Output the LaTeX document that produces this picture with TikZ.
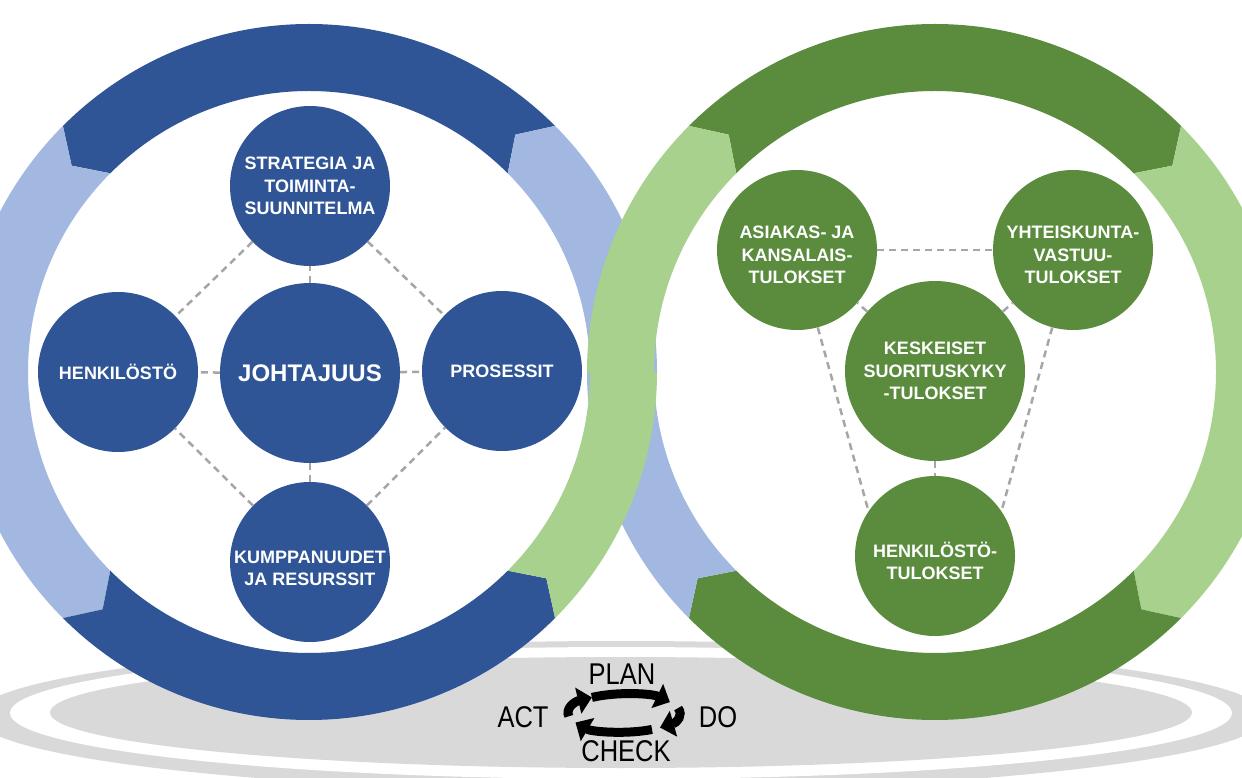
\documentclass[tikz,border=0pt]{standalone}
\usepackage{fontspec}
\setmainfont{Liberation Sans}
\newfontfamily\kapea[FakeStretch=0.85]{Liberation Sans}
\usetikzlibrary{arrows.meta}

\definecolor{tummasininen}{HTML}{2F5597}
\definecolor{vaaleasininen}{HTML}{A2B8E0}
\definecolor{tummavihrea}{HTML}{5B8C3E}
\definecolor{vaaleavihrea}{HTML}{A9D18E}
\definecolor{harmaa}{HTML}{D9D9D9}
\definecolor{katko}{HTML}{A6A6A6}

% renkaan lohko: vari, keskipiste, alkukulma, loppukulma, karki alussa, karki lopussa
\newcommand\lohko[6]{%
    \fill[#1, shift={#2}] (#3:348) arc[start angle=#3, end angle=#4, radius=348]
        -- ({#4+(#6)}:314.5) -- (#4:281) arc[start angle=#4, end angle=#3, radius=281]
        -- ({#3+(#5)}:314.5) -- cycle;}

\begin{document}
\begin{tikzpicture}[
        x=1pt, y=1pt,
        pallo/.style = {circle, minimum size=160pt, inner sep=0pt, align=center, text=white,
                font=\bfseries\fontsize{18}{22.5}\selectfont}, % Ympyrat
        sininen/.style = {pallo, fill=tummasininen},
        vihrea/.style = {pallo, fill=tummavihrea},
        yhteys/.style = {draw=katko, line width=2.5pt, dash pattern=on 7pt off 5pt}, % Katkoviivat
        nuoli/.style = {line width=9pt, -{Triangle[width=26pt, length=14pt]}},
        sana/.style = {font=\kapea\fontsize{30}{30}\selectfont},
    ]
    \useasboundingbox (0,0) rectangle (1242,777);

    % alusta
    \fill[harmaa] (621,61) ellipse[x radius=646, y radius=75];
    \fill[white] (621,64) ellipse[x radius=611, y radius=66];
    \fill[harmaa] (621,64.5) ellipse[x radius=571, y radius=55.5];

    \coordinate (vasen) at (309,405);
    \coordinate (oikea) at (935,405);
    \fill[white] (vasen) circle[radius=281];
    \fill[white] (oikea) circle[radius=281];

    % renkaat
    \lohko{tummasininen}{(vasen)}{45}{135}{4}{4}
    \lohko{vaaleasininen}{(vasen)}{135}{225}{4}{4}
    \lohko{tummasininen}{(vasen)}{225}{315}{4}{4}
    \lohko{tummavihrea}{(oikea)}{45}{135}{-4}{-4}
    \lohko{vaaleavihrea}{(oikea)}{-45}{45}{-4}{-4}
    \lohko{tummavihrea}{(oikea)}{-135}{-45}{-4}{-4}
    \lohko{vaaleasininen}{(vasen)}{0}{45}{0}{4}
    \lohko{vaaleasininen}{(oikea)}{180}{225}{0}{-4}
    \lohko{vaaleavihrea}{(oikea)}{135}{180}{-4}{0}
    \lohko{vaaleavihrea}{(vasen)}{-45}{0}{4}{0}

    % vasen rengas
    \node[sininen] (strat) at (310,591) {STRATEGIA JA\\TOIMINTA-\\SUUNNITELMA};
    \node[sininen] (henk) at (118,405) {HENKILÖSTÖ};
    \node[sininen] (proc) at (502,406) {PROSESSIT};
    \node[sininen] (kump) at (310,215) {\rule{0pt}{25pt}KUMPPANUUDET\\JA RESURSSIT};
    \node[sininen, minimum size=180pt, font=\bfseries\fontsize{24}{28}\selectfont] (joht) at (310,404) {JOHTAJUUS};

    \draw[yhteys] (strat) -- (henk);
    \draw[yhteys] (strat) -- (proc);
    \draw[yhteys] (kump) -- (henk);
    \draw[yhteys] (kump) -- (proc);
    \draw[yhteys] (joht) -- (strat);
    \draw[yhteys] (joht) -- (henk);
    \draw[yhteys] (joht) -- (proc);
    \draw[yhteys] (joht) -- (kump);

    % oikea rengas
    \node[vihrea] (asia) at (797,527) {\rule{0pt}{23pt}ASIAKAS- JA\\KANSALAIS-\\TULOKSET};
    \node[vihrea] (yht) at (1073,527) {\rule{0pt}{23pt}YHTEISKUNTA-\\VASTUU-\\TULOKSET};
    \node[vihrea] (htul) at (935,221) {\rule{0pt}{25pt}HENKILÖSTÖ-\\TULOKSET};
    \node[vihrea, minimum size=180pt] (kesk) at (935,406) {KESKEISET\\SUORITUSKYKY\\-TULOKSET};

    \draw[yhteys] (asia) -- (yht);
    \draw[yhteys] (asia.-75) -- (htul.146);
    \draw[yhteys] (yht.-105) -- (htul.34);
    \draw[yhteys] (kesk) -- (asia);
    \draw[yhteys] (kesk) -- (yht);
    \draw[yhteys] (kesk) -- (htul);

    % PDCA
    \coordinate (kierto) at (624,64);
    \draw[nuoli, shift={(kierto)}] (125:56 and 19) arc[start angle=125, end angle=35, x radius=56, y radius=19];
    \draw[nuoli, shift={(kierto)}] (15:56 and 19) arc[start angle=15, end angle=-50, x radius=56, y radius=19];
    \draw[nuoli, shift={(kierto)}] (-60:56 and 19) arc[start angle=-60, end angle=-150, x radius=56, y radius=19];
    \draw[nuoli, shift={(kierto)}] (-170:56 and 19) arc[start angle=-170, end angle=-235, x radius=56, y radius=19];
    \node[sana] (plan) at (622,103) {PLAN};
    \node[sana] (do) at (718,60) {DO};
    \node[sana] (check) at (626,26) {CHECK};
    \node[sana] (act) at (523,60) {ACT};
\end{tikzpicture}
\end{document}
